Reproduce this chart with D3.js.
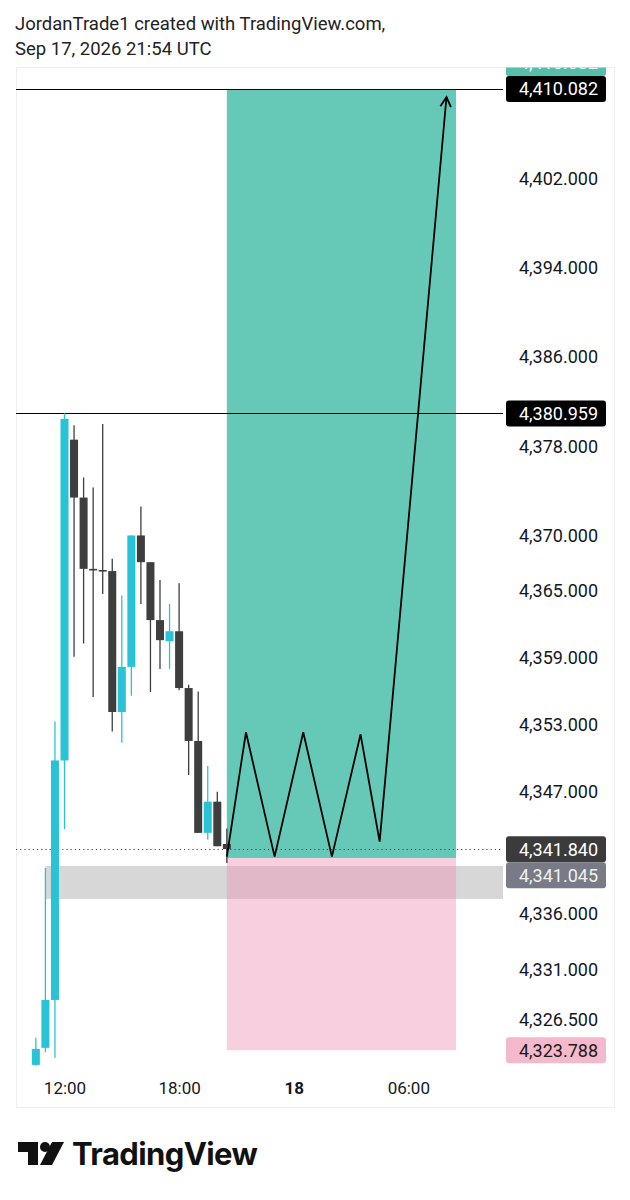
<!DOCTYPE html>
<html><head><meta charset="utf-8">
<script src="https://cdn.jsdelivr.net/npm/d3@7"></script>
<style>
body{margin:0;background:#fff;}
svg{display:block;font-family:Roboto,"Noto Sans",sans-serif;}
</style>
</head><body>
<svg id="c" width="630" height="1200"></svg>
<script>
// ---------- DATA ----------
const candleTimes = ["2026-09-17T10:30","2026-09-17T11:00","2026-09-17T11:30","2026-09-17T12:00","2026-09-17T12:30","2026-09-17T13:00","2026-09-17T13:30","2026-09-17T14:00","2026-09-17T14:30","2026-09-17T15:00","2026-09-17T15:30","2026-09-17T16:00","2026-09-17T16:30","2026-09-17T17:00","2026-09-17T17:30","2026-09-17T18:00","2026-09-17T18:30","2026-09-17T19:00","2026-09-17T19:30","2026-09-17T20:00","2026-09-17T20:30"];
const opens  = [4322.47,4324.0,4328.3,4349.8,4378.6,4373.4,4367.0,4366.9,4366.8,4354.15,4358.2,4370.0,4367.6,4362.4,4360.5,4361.4,4356.3,4351.55,4343.3,4346.1,4342.3];
const highs  = [4324.9,4340.15,4353.3,4380.96,4379.9,4375.2,4374.3,4380.0,4367.9,4364.6,4370.0,4372.6,4367.6,4366.0,4363.85,4365.7,4356.6,4356.0,4349.3,4347.0,4343.7];
const lows   = [4322.4,4323.6,4323.1,4343.65,4359.1,4360.3,4355.5,4364.75,4352.4,4351.4,4355.6,4363.85,4355.95,4358.0,4358.0,4356.1,4348.5,4343.3,4342.7,4342.1,4340.6];
const closes = [4323.9,4328.3,4349.8,4380.46,4373.4,4367.0,4366.9,4366.8,4354.15,4358.2,4370.0,4367.6,4362.4,4360.6,4361.4,4356.3,4351.55,4343.3,4346.1,4342.1,4341.84];

const priceTicks = [4402,4394,4386,4378,4370,4365,4359,4353,4347,4336,4331,4326.5];
const timeTicks  = ["2026-09-17T12:00","2026-09-17T18:00","2026-09-18T00:00","2026-09-18T06:00"];
const timeTickLabels = ["12:00","18:00","18","06:00"];

const hLinePrices = [4410.082, 4380.959];
const lastPrice = 4341.84;

const positionStart = "2026-09-17T20:30";
const positionEnd   = "2026-09-18T08:30";
const targetPrice = 4410.082;
const entryPrice  = 4341.045;
const stopPrice   = 4323.788;

const zoneStart = "2026-09-17T11:00";
const zoneTop = 4340.33;
const zoneBottom = 4337.37;

const pathTimes  = ["2026-09-17T20:30","2026-09-17T21:30","2026-09-17T23:00","2026-09-18T00:30","2026-09-18T02:00","2026-09-18T03:30","2026-09-18T04:30","2026-09-18T08:00"];
const pathPrices = [4341.17,4352.33,4341.17,4352.33,4341.17,4352.15,4342.51,4409.36];

const labelPrices = [4410.082,4380.959,4341.840,4341.045,4323.788,4410.082];
const labelKinds  = ["black","black","last","entry","stop","target"];

// ---------- STYLE ----------
const kindStyle = {
  black:{bg:"#000000",fg:"#ffffff"},
  last:{bg:"#3b3b3b",fg:"#ffffff"},
  entry:{bg:"#787b86",fg:"#f0f0f0"},
  stop:{bg:"#f5b9cc",fg:"#1a1a1a"},
  target:{bg:"#55bfa9",fg:"#ffffff"}
};
const UP="#29c3d7", DOWN="#3e3e3e";

const svg = d3.select("#c");
const parse = d3.utcParse("%Y-%m-%dT%H:%M");
const x = d3.scaleUtc().domain([parse("2026-09-17T12:00"),parse("2026-09-18T06:00")]).range([64.5,408.3]);
const y = d3.scaleLinear().domain([4402,4326.5]).range([179,1020]);

const P = {l:16,t:67,r:503,b:1068,frameR:614,frameB:1107};

// header
svg.append("text").attr("x",15).attr("y",30).attr("font-size",18.5).attr("fill","#222")
  .text("JordanTrade1 created with TradingView.com,");
svg.append("text").attr("x",15).attr("y",55).attr("font-size",18.5).attr("fill","#222")
  .text("Sep 17, 2026 21:54 UTC");

// frame
svg.append("rect").attr("x",P.l+0.5).attr("y",P.t+0.5).attr("width",P.frameR-P.l).attr("height",P.frameB-P.t)
  .attr("fill","none").attr("stroke","#eceef2");

svg.append("defs").append("clipPath").attr("id","plot").append("rect")
  .attr("x",P.l).attr("y",P.t).attr("width",P.r-P.l).attr("height",P.b-P.t);
svg.select("defs").append("clipPath").attr("id","axisclip").append("rect")
  .attr("x",P.r).attr("y",P.t+0.5).attr("width",P.frameR-P.r).attr("height",P.frameB-P.t);

const g = svg.append("g").attr("clip-path","url(#plot)");

// gray zone
g.append("rect").attr("x",x(parse(zoneStart))).attr("y",y(zoneTop))
  .attr("width",P.r-x(parse(zoneStart))).attr("height",y(zoneBottom)-y(zoneTop))
  .attr("fill","#d7d7d7");

// position boxes
const px0 = x(parse(positionStart)), px1 = x(parse(positionEnd));
g.append("rect").attr("x",px0).attr("y",y(targetPrice)).attr("width",px1-px0)
  .attr("height",y(entryPrice)-y(targetPrice)).attr("fill","#66c9b8");
g.append("rect").attr("x",px0).attr("y",y(entryPrice)).attr("width",px1-px0)
  .attr("height",y(stopPrice)-y(entryPrice)).attr("fill","rgba(238,140,178,0.42)");

// horizontal lines
g.selectAll("line.h").data(hLinePrices).join("line").attr("class","h")
  .attr("x1",P.l).attr("x2",P.r).attr("y1",d=>Math.round(y(d))+0.5).attr("y2",d=>Math.round(y(d))+0.5)
  .attr("stroke","#000").attr("stroke-width",1.2);

// last price dotted
g.append("line").attr("x1",P.l).attr("x2",P.r).attr("y1",Math.round(y(lastPrice))+0.5).attr("y2",Math.round(y(lastPrice))+0.5)
  .attr("stroke","#444").attr("stroke-dasharray","1.2,3").attr("stroke-width",1);

// candles
const candles = candleTimes.map((t,i)=>({t:parse(t),o:opens[i],h:highs[i],l:lows[i],c:closes[i]}));
const bw = 8;
const cg = g.append("g");
cg.selectAll("line.w").data(candles).join("line").attr("class","w")
  .attr("x1",d=>x(d.t)).attr("x2",d=>x(d.t)).attr("y1",d=>y(d.h)).attr("y2",d=>y(d.l))
  .attr("stroke",d=>d.c>=d.o?UP:DOWN).attr("stroke-width",1.3);
cg.selectAll("rect.b").data(candles).join("rect").attr("class","b")
  .attr("x",d=>x(d.t)-bw/2).attr("width",bw)
  .attr("y",d=>y(Math.max(d.o,d.c)))
  .attr("height",d=>Math.max(1.6,Math.abs(y(d.o)-y(d.c))))
  .attr("fill",d=>d.c>=d.o?UP:DOWN);

// zigzag path
const pts = pathTimes.map((t,i)=>[x(parse(t)),y(pathPrices[i])]);
g.append("path").attr("d",d3.line()(pts)).attr("fill","none").attr("stroke","#000")
  .attr("stroke-width",1.8).attr("stroke-linejoin","miter");
const a = pts[pts.length-2], b = pts[pts.length-1];
const ang = Math.atan2(b[1]-a[1],b[0]-a[0]);
const al = 11, spread = 0.5;
g.append("path").attr("d",d3.line()([
   [b[0]-al*Math.cos(ang-spread),b[1]-al*Math.sin(ang-spread)], b,
   [b[0]-al*Math.cos(ang+spread),b[1]-al*Math.sin(ang+spread)]]))
  .attr("fill","none").attr("stroke","#000").attr("stroke-width",1.8);

// price axis
const fmt = d3.format(",.3f");
const ya = svg.append("g").attr("transform","translate(598,0)")
  .call(d3.axisLeft(y).tickValues(priceTicks).tickFormat(fmt).tickSize(0).tickPadding(0));
ya.select(".domain").remove();
ya.selectAll("text").attr("font-size",18).attr("fill","#131722").attr("font-family","Roboto");

// price labels with collision resolution
const lg = svg.append("g").attr("clip-path","url(#axisclip)");
const placed = [];
const LH = 26;
labelPrices.forEach((p,i)=>{
  let cy = y(p);
  let moved = true, guard=0;
  while(moved && guard<10){
    moved=false; guard++;
    for(const o of placed){
      if(Math.abs(o.cy-cy) < LH){
        cy = p < o.p ? o.cy + LH : o.cy - LH; moved=true;
      }
    }
  }
  placed.push({p,cy});
  const st = kindStyle[labelKinds[i]];
  lg.append("rect").attr("x",506).attr("y",cy-LH/2).attr("width",100).attr("height",LH)
    .attr("rx",3).attr("fill",st.bg);
  lg.append("text").attr("x",598).attr("y",cy).attr("dy","0.36em").attr("text-anchor","end")
    .attr("font-size",18).attr("fill",st.fg).text(fmt(p));
});

// time axis
const xa = svg.append("g").attr("transform","translate(0,1082)")
  .call(d3.axisBottom(x).tickValues(timeTicks.map(parse)).tickFormat((d,i)=>timeTickLabels[i]).tickSize(0).tickPadding(0));
xa.select(".domain").remove();
xa.selectAll("text").attr("font-size",17).attr("fill","#131722").attr("font-family","Roboto")
  .attr("font-weight",(d,i)=>timeTickLabels[i]==="18"?"bold":"normal");

// TradingView logo
const logo = svg.append("g").attr("fill","#111");
logo.append("path").attr("d","M18,1142 H38 V1165 H28 V1152 H18 Z");
logo.append("circle").attr("cx",45).attr("cy",1147).attr("r",5);
logo.append("path").attr("d","M52,1142 H64 L52,1165 H40 Z");
svg.append("text").attr("x",72).attr("y",1165).attr("font-family","Inter, Roboto, sans-serif")
  .attr("font-weight",700).attr("font-size",31).attr("letter-spacing",-0.6).attr("fill","#111").text("TradingView");
</script>
</body></html>
